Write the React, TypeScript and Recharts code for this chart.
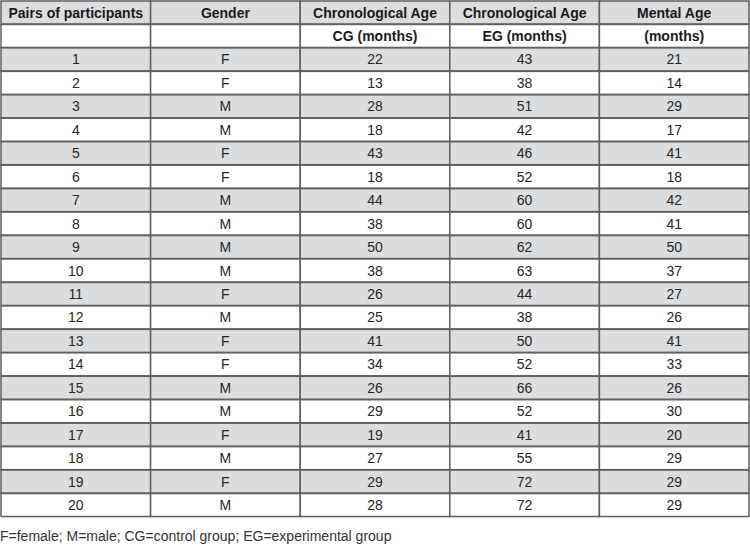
import { BarChart, Bar, XAxis, YAxis } from 'recharts';

const headerTop = ['Pairs of participants', 'Gender', 'Chronological Age', 'Chronological Age', 'Mental Age'];
const headerSub = ['', '', 'CG (months)', 'EG (months)', '(months)'];

const pairs = ['1', '2', '3', '4', '5', '6', '7', '8', '9', '10', '11', '12', '13', '14', '15', '16', '17', '18', '19', '20'];
const gender = ['F', 'F', 'M', 'M', 'F', 'F', 'M', 'M', 'M', 'M', 'F', 'M', 'F', 'F', 'M', 'M', 'F', 'M', 'F', 'M'];
const ageCG = [22, 13, 28, 18, 43, 18, 44, 38, 50, 38, 26, 25, 41, 34, 26, 29, 19, 27, 29, 28];
const ageEG = [43, 38, 51, 42, 46, 52, 60, 60, 62, 63, 44, 38, 50, 52, 66, 52, 41, 55, 72, 72];
const mentalAge = [21, 14, 29, 17, 41, 18, 42, 41, 50, 37, 27, 26, 41, 33, 26, 30, 20, 29, 29, 29];

const footnote = 'F=female; M=male; CG=control group; EG=experimental group';

const GRAY = '#dcdddf';
const LINE = '#5f5f5f';
const FONT = "'Liberation Sans', Arial, sans-serif";

type Row = {
  key: string;
  cells: string[];
  bold: boolean;
  shaded: boolean;
  c0: number;
  c1: number;
  c2: number;
  c3: number;
  c4: number;
};

const rows: Row[] = [
  { key: 'h0', cells: headerTop, bold: true, shaded: true, c0: 1, c1: 1, c2: 1, c3: 1, c4: 1 },
  { key: 'h1', cells: headerSub, bold: true, shaded: false, c0: 1, c1: 1, c2: 1, c3: 1, c4: 1 },
  ...pairs.map((p, i) => ({
    key: 'r' + p,
    cells: [p, gender[i], String(ageCG[i]), String(ageEG[i]), String(mentalAge[i])],
    bold: false,
    shaded: i % 2 === 0,
    c0: 1,
    c1: 1,
    c2: 1,
    c3: 1,
    c4: 1,
  })),
];

const makeCell = (col: number) => (props: any) => {
  const { x, y, width, height, payload } = props;
  const row = payload as Row;
  return (
    <g>
      <rect
        x={x}
        y={y}
        width={width}
        height={height}
        fill={row.shaded ? GRAY : '#ffffff'}
        stroke={LINE}
        strokeWidth={1.5}
      />
      <text
        x={x + width / 2}
        y={y + height / 2}
        textAnchor="middle"
        dominantBaseline="central"
        fontFamily={FONT}
        fontSize={14}
        fontWeight={row.bold ? 'bold' : 'normal'}
        fill={row.bold ? '#1a1a1a' : '#262626'}
      >
        {row.cells[col]}
      </text>
    </g>
  );
};

export default function App() {
  return (
    <div style={{ position: 'absolute', left: 0, top: 0, width: 750, height: 546, background: '#fff' }}>
      <BarChart
        width={750}
        height={518}
        data={rows}
        layout="vertical"
        margin={{ top: 1, right: 1, bottom: 1, left: 1 }}
        barCategoryGap={0}
        barGap={0}
      >
        <XAxis type="number" domain={[0, 5]} hide />
        <YAxis type="category" dataKey="key" hide />
        {[0, 1, 2, 3, 4].map((c) => (
          <Bar
            key={c}
            dataKey={'c' + c}
            stackId="table"
            isAnimationActive={false}
            shape={makeCell(c)}
          />
        ))}
      </BarChart>
      <div
        style={{
          position: 'absolute',
          left: 0,
          top: 528,
          fontFamily: FONT,
          fontSize: 14,
          color: '#333',
          whiteSpace: 'nowrap',
        }}
      >
        {footnote}
      </div>
    </div>
  );
}
